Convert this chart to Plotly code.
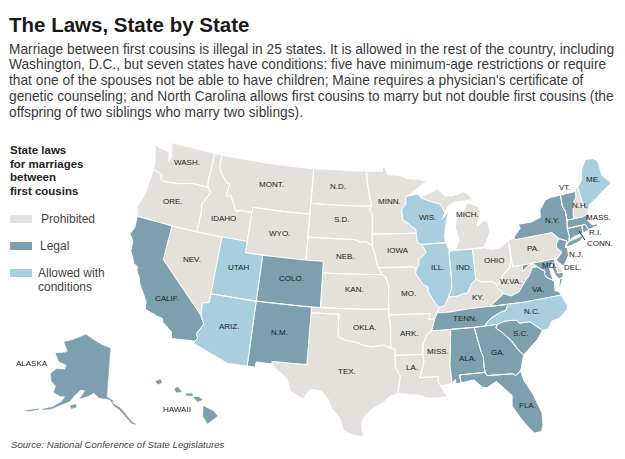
import math
import plotly.graph_objects as go

# state outlines as (lon, lat)
wa = [(-124.7,48.38),(-123.1,48.15),(-122.75,48.15),(-122.45,47.3),(-122.3,47.9),(-122.75,49),(-120,49),(-117.03,49),(-117.04,46.42),(-116.92,45.99),(-118.98,46),(-119.3,45.93),(-120.5,45.7),(-121.2,45.65),(-122.3,45.55),(-122.75,45.65),(-122.9,46.1),(-123.4,46.2),(-124,46.27),(-124.1,46.9),(-124.4,47.6)]
ore = [(-124,46.27),(-123.4,46.2),(-122.9,46.1),(-122.75,45.65),(-122.3,45.55),(-121.2,45.65),(-120.5,45.7),(-119.3,45.93),(-118.98,46),(-116.92,45.99),(-116.46,45.6),(-116.85,44.95),(-117.22,44.4),(-117.03,43.8),(-117.03,42),(-120,42),(-124.2,42),(-124.55,42.85),(-124.1,44),(-124.05,45),(-123.95,46)]
calif = [(-124.2,42),(-120,42),(-120,39),(-114.63,35),(-114.15,34.3),(-114.72,33.4),(-114.5,33),(-114.72,32.72),(-117.12,32.53),(-117.3,33.1),(-118.4,33.75),(-118.5,34.03),(-119.2,34.15),(-120.5,34.45),(-120.65,35.15),(-121.9,36.6),(-122,36.95),(-122.5,37.5),(-122.5,37.8),(-123,38),(-123.75,39),(-123.85,39.8),(-124.4,40.4),(-124.1,41)]
nev = [(-120,42),(-117.03,42),(-114.04,42),(-114.04,36.2),(-114.75,36.1),(-114.63,35),(-120,39)]
idaho = [(-117.03,49),(-116.05,49),(-116.05,48),(-115.7,47.45),(-114.7,46.7),(-114.35,46.65),(-114.5,45.55),(-113.95,45.7),(-113.45,45.05),(-113,44.45),(-112.3,44.55),(-111.5,44.55),(-111.05,44.48),(-111.05,42),(-114.04,42),(-117.03,42),(-117.03,43.8),(-117.22,44.4),(-116.85,44.95),(-116.46,45.6),(-116.92,45.99),(-117.04,46.42)]
mont = [(-116.05,49),(-113,49),(-110,49),(-107,49),(-104.05,49),(-104.05,45.94),(-104.05,45),(-107.5,45),(-111.05,45),(-111.05,44.48),(-111.5,44.55),(-112.3,44.55),(-113,44.45),(-113.45,45.05),(-113.95,45.7),(-114.5,45.55),(-114.35,46.65),(-114.7,46.7),(-115.7,47.45),(-116.05,48)]
wyo = [(-111.05,45),(-107.5,45),(-104.05,45),(-104.05,43),(-104.05,41),(-107,41),(-109.05,41),(-111.05,41),(-111.05,42),(-111.05,44.48)]
utah = [(-114.04,42),(-111.05,42),(-111.05,41),(-109.05,41),(-109.05,37),(-111,37),(-114.04,37)]
colo = [(-109.05,41),(-107,41),(-104.05,41),(-102.05,41),(-102.05,40),(-102.05,37),(-104,37),(-107,37),(-109.05,37)]
ariz = [(-114.04,37),(-111,37),(-109.05,37),(-109.05,31.33),(-111.07,31.33),(-114.8,32.5),(-114.72,32.72),(-114.5,33),(-114.72,33.4),(-114.15,34.3),(-114.63,35),(-114.75,36.1),(-114.04,36.2)]
nm = [(-109.05,37),(-107,37),(-104,37),(-103,37),(-103.04,32),(-104.5,32),(-106.62,32),(-106.53,31.78),(-108.2,31.78),(-108.2,31.33),(-109.05,31.33)]
tex = [(-103.04,36.5),(-100,36.5),(-100,34.56),(-99.2,34.3),(-98.1,34.13),(-97.2,33.85),(-96.4,33.75),(-95.2,33.9),(-94.48,33.64),(-94.04,33.55),(-94.04,33),(-94.04,32),(-93.55,31.2),(-93.7,30.3),(-93.85,29.7),(-94.7,29.4),(-95.3,28.9),(-96.4,28.35),(-97.2,27.6),(-97.4,26.9),(-97.15,25.95),(-97.6,25.9),(-98.2,26.05),(-99.1,26.4),(-99.5,27.5),(-100.3,28.3),(-100.7,29.1),(-101.4,29.77),(-102.3,29.88),(-102.7,29.7),(-103.15,28.98),(-104.5,29.6),(-104.9,30.6),(-106.2,31.45),(-106.53,31.78),(-106.62,32),(-104.5,32),(-103.04,32)]
okla = [(-103,37),(-100,37),(-97,37),(-94.62,37),(-94.62,36.5),(-94.43,35.4),(-94.48,33.64),(-95.2,33.9),(-96.4,33.75),(-97.2,33.85),(-98.1,34.13),(-99.2,34.3),(-100,34.56),(-100,36.5),(-103.04,36.5)]
kan = [(-102.05,40),(-99,40),(-96,40),(-95.3,40),(-94.9,39.75),(-94.61,39.1),(-94.62,37),(-97,37),(-100,37),(-102.05,37)]
neb = [(-104.05,43),(-101,43),(-98.5,43),(-97.9,42.8),(-97.2,42.85),(-96.45,42.5),(-96.1,41.7),(-95.85,40.8),(-95.3,40),(-96,40),(-99,40),(-102.05,40),(-102.05,41),(-104.05,41)]
sd = [(-104.05,45.94),(-101,45.94),(-98,45.94),(-96.56,45.94),(-96.85,45.6),(-96.45,45.3),(-96.45,43.5),(-96.45,42.5),(-97.2,42.85),(-97.9,42.8),(-98.5,43),(-101,43),(-104.05,43)]
nd = [(-104.05,49),(-101,49),(-98,49),(-97.23,49),(-97.1,48),(-96.85,47),(-96.56,45.94),(-98,45.94),(-101,45.94),(-104.05,45.94)]
minn = [(-97.23,49),(-95.15,49),(-95.15,49.38),(-94.8,49.3),(-94.6,48.7),(-93,48.6),(-92,48.3),(-90.8,48.2),(-89.5,48),(-90.9,47.3),(-92.05,46.75),(-92.3,46.65),(-92.3,46.1),(-92.85,45.6),(-92.75,44.75),(-91.25,43.85),(-91.22,43.5),(-93,43.5),(-96.45,43.5),(-96.45,45.3),(-96.85,45.6),(-96.56,45.94),(-96.85,47),(-97.1,48)]
iowa = [(-96.45,43.5),(-93,43.5),(-91.22,43.5),(-91.1,42.7),(-90.65,42.5),(-90.15,41.8),(-91.05,41.2),(-91.1,40.7),(-91.42,40.38),(-91.73,40.61),(-94,40.58),(-95.77,40.58),(-96.1,41.7),(-96.45,42.5)]
mo = [(-95.77,40.58),(-94,40.58),(-91.73,40.61),(-91.42,40.38),(-91.5,40),(-90.7,39),(-90.2,38.8),(-90.2,38.4),(-89.5,37.3),(-89.1,36.98),(-89.4,36.5),(-89.7,36),(-90.37,36),(-90.15,36.5),(-92,36.5),(-94.62,36.5),(-94.62,37),(-94.61,39.1),(-94.9,39.75),(-95.3,40)]
ark = [(-94.62,36.5),(-92,36.5),(-90.15,36.5),(-90.37,36),(-89.7,36),(-90.1,35),(-90.6,34.7),(-91.1,33.9),(-91.17,33),(-92.5,33),(-94.04,33),(-94.04,33.55),(-94.48,33.64),(-94.43,35.4)]
la = [(-94.04,33),(-92.5,33),(-91.17,33),(-91.1,32.3),(-91.6,31),(-89.73,31),(-89.8,30.6),(-89.55,30.18),(-89.4,29.9),(-89,29.2),(-90.1,29.15),(-91,29.2),(-91.8,29.5),(-92.6,29.55),(-93.85,29.7),(-93.7,30.3),(-93.55,31.2),(-94.04,32)]
miss = [(-91.17,33),(-91.1,33.9),(-90.6,34.7),(-90.1,35),(-88.2,35),(-88.1,34.9),(-88.47,31.9),(-88.4,30.3),(-89.55,30.18),(-89.8,30.6),(-89.73,31),(-91.6,31),(-91.1,32.3)]
ala = [(-88.2,35),(-85.6,34.98),(-85.18,32.87),(-85,32.3),(-85.05,31.55),(-85,31),(-87.6,31),(-87.5,30.3),(-88,30.25),(-88.05,30.65),(-88.4,30.3),(-88.47,31.9),(-88.1,34.9)]
ga = [(-85.6,34.98),(-84.32,34.99),(-83.1,35),(-83.35,34.7),(-82.75,34.25),(-81.9,33.4),(-81.4,32.6),(-80.9,32.05),(-81.15,31.5),(-81.45,30.72),(-82.05,30.36),(-82.2,30.57),(-84.86,30.7),(-85,31),(-85.05,31.55),(-85,32.3),(-85.18,32.87)]
fla = [(-87.6,31),(-85,31),(-84.86,30.7),(-82.2,30.57),(-82.05,30.36),(-81.45,30.72),(-81.3,29.9),(-80.6,28.5),(-80.05,26.8),(-80.15,25.75),(-80.4,25.2),(-81.1,25.15),(-81.8,26.1),(-82.25,26.8),(-82.8,27.8),(-82.65,28.7),(-83.4,29.5),(-84,30.1),(-85,29.65),(-85.4,29.7),(-86.2,30.45),(-87.5,30.3)]
sc = [(-83.1,35),(-82.3,35.2),(-81.05,35.12),(-80.8,34.82),(-79.68,34.8),(-78.55,33.87),(-79.2,33.2),(-79.9,32.7),(-80.9,32.05),(-81.4,32.6),(-81.9,33.4),(-82.75,34.25),(-83.35,34.7)]
nc = [(-84.32,34.99),(-83.1,35),(-82.3,35.2),(-81.05,35.12),(-80.8,34.82),(-79.68,34.8),(-78.55,33.87),(-77.95,33.9),(-77.4,34.5),(-76.5,34.65),(-75.55,35.25),(-75.45,35.6),(-75.87,36.55),(-78,36.55),(-80,36.55),(-81.68,36.59),(-82,36.1),(-82.6,36),(-83.7,35.6),(-84.3,35.2)]
tenn = [(-89.4,36.5),(-88,36.5),(-86,36.63),(-83.68,36.6),(-81.68,36.59),(-82,36.1),(-82.6,36),(-83.7,35.6),(-84.3,35.2),(-84.32,34.99),(-85.6,34.98),(-88.2,35),(-90.1,35),(-89.7,36)]
ky = [(-89.4,36.5),(-88,36.5),(-86,36.63),(-83.68,36.6),(-82.9,37),(-81.97,37.54),(-82.6,38.15),(-82.6,38.42),(-83,38.73),(-84.2,38.8),(-84.82,39.1),(-85.4,38.73),(-85.9,38),(-86.5,37.95),(-87.1,37.8),(-88.05,37.8),(-88.5,37.1),(-89.1,36.98)]
va = [(-83.68,36.6),(-81.68,36.59),(-80,36.55),(-78,36.55),(-75.87,36.55),(-76,36.9),(-76.4,37),(-76.3,37.6),(-76.3,37.9),(-77,38.3),(-77.2,38.6),(-77.05,38.85),(-77.5,39.1),(-77.72,39.32),(-78.35,39.4),(-78.85,38.75),(-79.3,38.4),(-80.3,37.5),(-81.2,37.25),(-81.97,37.54),(-82.9,37)]
va_shore = [(-75.95,37.15),(-75.65,37.95),(-75.25,38.03),(-75.6,37.5)]
wva = [(-81.97,37.54),(-81.2,37.25),(-80.3,37.5),(-79.3,38.4),(-78.85,38.75),(-78.35,39.4),(-77.72,39.32),(-78.2,39.68),(-78.8,39.6),(-79.48,39.2),(-79.48,39.72),(-80.52,39.72),(-80.52,40.64),(-80.85,39.7),(-81.7,39.2),(-82.2,38.6),(-82.6,38.42),(-82.6,38.15)]
md = [(-79.48,39.72),(-77.5,39.72),(-75.79,39.72),(-75.7,38.46),(-75.05,38.45),(-75.25,38.03),(-75.65,37.95),(-76,38.3),(-76.2,39),(-76,39.45),(-76.5,39.1),(-76.45,38.4),(-76.3,37.9),(-77,38.3),(-77.2,38.6),(-77.05,38.85),(-77.5,39.1),(-77.72,39.32),(-78.2,39.68),(-78.8,39.6),(-79.48,39.2)]
dela = [(-75.79,39.72),(-75.42,39.8),(-75.55,39.45),(-75.05,38.45),(-75.7,38.46)]
pa = [(-80.52,41.98),(-79.76,42.27),(-79.76,42),(-77,42),(-75.35,42),(-74.7,41.36),(-75.13,40.97),(-75.2,40.65),(-74.73,40.15),(-75.42,39.8),(-75.79,39.72),(-77.5,39.72),(-79.48,39.72),(-80.52,39.72),(-80.52,40.64)]
ohio = [(-84.8,41.72),(-83.45,41.73),(-82.7,41.5),(-81.7,41.5),(-80.52,41.98),(-80.52,40.64),(-80.85,39.7),(-81.7,39.2),(-82.2,38.6),(-82.6,38.42),(-83,38.73),(-84.2,38.8),(-84.82,39.1)]
ind = [(-87.53,41.72),(-86.8,41.76),(-84.8,41.72),(-84.82,39.1),(-85.4,38.73),(-85.9,38),(-86.5,37.95),(-87.1,37.8),(-88.05,37.8),(-87.6,38.5),(-87.53,39.3)]
ill = [(-90.65,42.5),(-87.8,42.5),(-87.55,41.9),(-87.53,41.72),(-87.53,39.3),(-87.6,38.5),(-88.05,37.8),(-88.5,37.1),(-89.1,36.98),(-89.5,37.3),(-90.2,38.4),(-90.2,38.8),(-90.7,39),(-91.5,40),(-91.42,40.38),(-91.1,40.7),(-91.05,41.2),(-90.15,41.8)]
wis = [(-92.05,46.75),(-90.8,46.9),(-90.4,46.55),(-89.1,46.13),(-88.1,45.9),(-87.6,45.1),(-88,44.55),(-87.05,45.25),(-87.5,44.4),(-87.9,43),(-87.8,42.5),(-90.65,42.5),(-91.1,42.7),(-91.22,43.5),(-91.25,43.85),(-92.75,44.75),(-92.85,45.6),(-92.3,46.1),(-92.3,46.65)]
mich_lower = [(-86.8,41.76),(-84.8,41.72),(-83.45,41.73),(-83.15,42.1),(-82.45,43),(-82.6,43.9),(-82.95,44.07),(-83.9,43.65),(-83.3,44.85),(-83.45,45.3),(-84.75,45.78),(-85.1,45.3),(-85.6,44.8),(-86.25,44.7),(-86.5,43.7),(-86.2,42.6)]
mich_upper = [(-90.4,46.55),(-89.1,46.13),(-88.1,45.9),(-87.6,45.1),(-87,45.75),(-86.2,45.95),(-84.9,45.95),(-84,46),(-84.5,46.45),(-85,46.75),(-86.5,46.5),(-87.4,46.55),(-88.4,47.35),(-87.8,47.45),(-88.9,47),(-89.8,46.8)]
ny = [(-79.76,42.27),(-78.9,42.9),(-79.05,43.27),(-77.5,43.25),(-76.3,43.5),(-76.2,44.1),(-75.3,44.85),(-74.7,45),(-73.35,45),(-73.45,44),(-73.25,43.55),(-73.3,42.75),(-73.5,42.05),(-73.5,41.3),(-73.65,41),(-74,40.7),(-73.9,41),(-74.7,41.36),(-75.35,42),(-77,42),(-79.76,42)]
long_island = [(-74,40.6),(-73.75,40.85),(-72.6,40.98),(-72,41.1),(-72.4,40.8),(-73.5,40.6)]
vt = [(-73.35,45),(-71.5,45),(-71.6,44.5),(-72.05,44.1),(-72.45,43.1),(-72.46,42.73),(-73.3,42.75),(-73.25,43.55),(-73.45,44)]
nh = [(-71.5,45),(-71.3,45.3),(-71.05,45.3),(-70.98,43.4),(-70.7,43.07),(-70.8,42.87),(-71.3,42.7),(-72.46,42.73),(-72.45,43.1),(-72.05,44.1),(-71.6,44.5)]
me = [(-71.05,45.3),(-70.4,45.8),(-70,46.7),(-69.23,47.46),(-68.3,47.35),(-67.8,47.07),(-67.8,45.7),(-67.45,45.3),(-67,44.85),(-68.5,44.3),(-69.1,44),(-70.2,43.6),(-70.7,43.07),(-70.98,43.4)]
mass = [(-73.5,42.05),(-73.3,42.75),(-72.46,42.73),(-71.3,42.7),(-70.8,42.87),(-70.6,42.65),(-71,42.3),(-70.55,41.8),(-70,41.8),(-70.25,42.05),(-69.95,41.9),(-69.98,41.65),(-70.65,41.55),(-71.12,41.5),(-71.38,42.02),(-71.8,42.02)]
conn = [(-73.5,42.05),(-71.8,42.02),(-71.85,41.32),(-72.9,41.25),(-73.65,41),(-73.5,41.3)]
ri = [(-71.8,42.02),(-71.38,42.02),(-71.12,41.5),(-71.85,41.32)]
nj = [(-74.7,41.36),(-73.9,41),(-74.25,40.5),(-74,40.45),(-74.1,39.75),(-74.9,38.95),(-75.4,39.4),(-75.55,39.6),(-74.73,40.15),(-75.2,40.65),(-75.13,40.97)]

alaska = [(-141,69.65),(-141,60.3),(-139.5,59.9),(-138,59.5),(-141,59.95),(-144,60),(-146.5,60.8),(-148.5,60),(-151.5,59.2),(-150,60.9),(-152,60.9),(-154,59.4),(-155,58.2),(-158,56.8),(-161,55.4),(-163.5,54.8),(-160.5,56),(-158,57.5),(-157.2,58.8),(-159,58.5),(-162,58.7),(-162,59.9),(-164.5,60.5),(-166,61.7),(-164.5,63),(-161,63.5),(-161,64.5),(-165,64.5),(-168,65.6),(-164,66.5),(-163,67),(-166.5,68.3),(-163,69.3),(-156.5,71.3),(-152,70.8),(-146,70.1)]
panhandle = [(-139.5,59.8),(-137.5,58.8),(-135.5,58.3),(-133.5,56.9),(-131.5,55.6),(-130,55),(-131.6,55.3),(-133.8,56.8),(-135.8,58),(-137.8,58.6)]
aleutians = [(-164.5,54.6),(-167,53.5),(-168.5,53.1),(-166.5,53.9)]
kodiak = [(-154.5,57.4),(-152.5,57.9),(-152.2,57.4),(-153.8,56.9)]
kauai = [(-159.8,22.1),(-159.4,22.25),(-159.3,22),(-159.6,21.9)]
oahu = [(-158.25,21.55),(-158,21.7),(-157.7,21.35),(-158.1,21.3)]
molokai = [(-157.3,21.2),(-156.8,21.2),(-156.8,21.05),(-157.3,21.08)]
maui = [(-156.7,20.95),(-156.3,20.95),(-156,20.75),(-156.4,20.6),(-156.6,20.8)]
big_island = [(-155.9,20.25),(-155.1,19.85),(-154.8,19.5),(-155.6,18.95),(-155.95,19.5)]

prohibited = [wa, ore, nev, idaho, mont, wyo, nd, sd, neb, kan, okla, tex, minn, iowa, mo, ark, la, miss, mich_lower, mich_upper, ohio, ky, wva, pa, dela, nh]
legal = [calif, colo, nm, tenn, ala, ga, fla, sc, va, va_shore, md, nj, ny, vt, conn, ri, mass]
conditions = [utah, ariz, wis, ill, ind, nc, me]
legal_alaska = [alaska, panhandle, aleutians, kodiak]
legal_hawaii = [kauai, oahu, molokai, maui, big_island]

# (name, x, y) of the state labels
labels = [("WASH.",187,162),("MONT.",271,184),("ORE.",173,201),("IDAHO",223,218),("WYO.",279,233),("NEV.",192,259),("UTAH",238,267),("COLO.",291,278),("CALIF.",167,298),("ARIZ.",229,326),("N.M.",279,332),("ALASKA",32,363),("HAWAII",177,409),
          ("N.D.",338,186),("MINN.",389,201),("S.D.",342,219),("WIS.",427,217),("MICH.",467,214),("VT.",565,187),("ME.",593,179),("N.H.",580,205),("N.Y.",552,220),("MASS.",598,217),("R.I.",595,232),("CONN.",600,243),("NEB.",345,256),("IOWA",398,250),("ILL.",437,267),("IND.",464,267),("OHIO",494,260),("PA.",533,248),("N.J.",576,254),("MD.",549,265),("DEL.",573,267),("W.VA.",511,281),("VA.",538,289),("KAN.",354,289),("MO.",408,293),("KY.",478,297),("N.C.",532,311),("TENN.",465,318),("OKLA.",365,327),("ARK.",409,333),("S.C.",521,333),("MISS.",438,351),("GA.",498,352),("ALA.",467,358),("LA.",412,367),("TEX.",347,371),("FLA.",527,405)]

body_lines = ["Marriage between first cousins is illegal in 25 states. It is allowed in the rest of the country, including",
              "Washington, D.C., but seven states have conditions: five have minimum-age restrictions or require",
              "that one of the spouses not be able to have children; Maine requires a physician's certificate of",
              "genetic counseling; and North Carolina allows first cousins to marry but not double first cousins (the",
              "offspring of two siblings who marry two siblings)."]
heading_lines = ["State laws","for marriages","between","first cousins"]
legend_names = ["Prohibited","Legal","Allowed with"]

grey = "#e3e1da"
blue = "#7d9fae"
pale = "#a9cede"


def albers(lon, lat, lon0, lat0, p1, p2):
    a, b = math.radians(p1), math.radians(p2)
    n = (math.sin(a)+math.sin(b))/2
    c = math.cos(a)**2+2*n*math.sin(a)
    rho = math.sqrt(c-2*n*math.sin(math.radians(lat)))/n
    rho0 = math.sqrt(c-2*n*math.sin(math.radians(lat0)))/n
    th = n*math.radians(lon-lon0)
    return rho*math.sin(th), rho0-rho*math.cos(th)


def project(polys, lon0, lat0, p1, p2, sx, sy, x0, y0):
    xs, ys = [], []
    for poly in polys:
        for lon, lat in poly+poly[:1]:
            x, y = albers(lon, lat, lon0, lat0, p1, p2)
            xs.append(x0+sx*x)
            ys.append(y0-sy*y)
        xs.append(None)
        ys.append(None)
    return xs, ys


def add_states(xs, ys, color, name, edge="white", edge_width=1):
    fig.add_trace(go.Scatter(x=xs, y=ys, mode="lines", fill="toself", fillcolor=color, name=name,
                             line=dict(color=edge, width=edge_width), hoverinfo="name", showlegend=False))


fig = go.Figure()
main = (-96, 37.5, 29.5, 45.5, 667, 657, 376, 303.5)
add_states(*project([long_island], *main), blue, "Legal", blue, 0.6)
add_states(*project(prohibited, *main), grey, "Prohibited")
add_states(*project(legal, *main), blue, "Legal")
add_states(*project(conditions, *main), pale, "Allowed with conditions")
add_states(*project(legal_alaska, -136, 64, 55, 65, 285, 300, 119, 378), blue, "Legal", blue, 0.5)
add_states(*project(legal_hawaii, -157, 20.5, 18, 24, 760, 760, 190, 403), blue, "Legal", blue, 0.5)

fig.add_trace(go.Scatter(x=[579, 585], y=[231, 240], mode="lines", line=dict(color="#222", width=1), hoverinfo="skip", showlegend=False))

for name, x, y in labels:
    fig.add_annotation(x=x, y=y, text=name, showarrow=False, font=dict(size=8, color="#222"), xanchor="center", yanchor="middle")

fig.add_annotation(x=7, y=24, text="<b>The Laws, State by State</b>", showarrow=False, xanchor="left", yanchor="middle", font=dict(size=20.5, color="#1a1a1a"))
for i, line in enumerate(body_lines):
    fig.add_annotation(x=7, y=49+i*15.8, text=line, showarrow=False, xanchor="left", yanchor="middle", font=dict(size=13.75, color="#3a3a3a"))
for i, line in enumerate(heading_lines):
    fig.add_annotation(x=8, y=150+i*13.6, text="<b>"+line+"</b>", showarrow=False, xanchor="left", yanchor="middle", font=dict(size=11.5, color="#222"))

swatch_y = [219, 246, 273]
swatch_colors = [grey, blue, pale]
text_x = [39, 38, 36]
for y, color, tx, name in zip(swatch_y, swatch_colors, text_x, legend_names):
    fig.add_shape(type="rect", x0=10, x1=32, y0=y-4, y1=y+4, fillcolor=color, line_width=0)
    fig.add_annotation(x=tx, y=y, text=name, showarrow=False, xanchor="left", yanchor="middle", align="left", font=dict(size=12, color="#444"))
fig.add_annotation(x=36, y=287, text="conditions", showarrow=False, xanchor="left", yanchor="middle", font=dict(size=12, color="#444"))

fig.add_annotation(x=9, y=444, text="<i>Source: National Conference of State Legislatures</i>", showarrow=False, xanchor="left", yanchor="middle", font=dict(size=9.6, color="#444"))

fig.update_xaxes(range=[0, 625], visible=False, fixedrange=True)
fig.update_yaxes(range=[459, 0], visible=False, fixedrange=True)
fig.update_layout(width=625, height=459, margin=dict(l=0, r=0, t=0, b=0), plot_bgcolor="white", paper_bgcolor="white",
                  font=dict(family="Liberation Sans"), showlegend=False)
fig.write_html("out.html", config={"displayModeBar": False}, post_script="document.body.style.margin='0';")
